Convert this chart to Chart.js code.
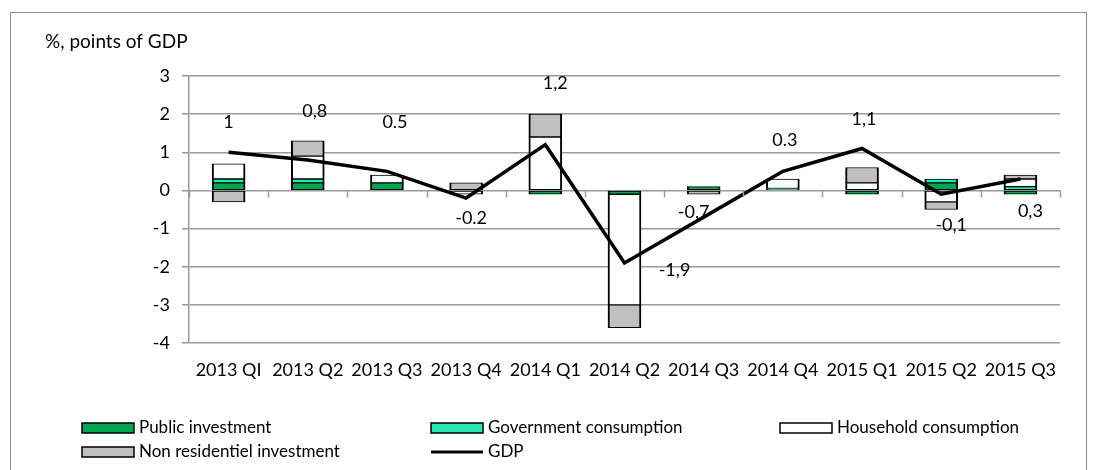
<!DOCTYPE html>
<html>
<head>
<meta charset="utf-8">
<script src="https://cdn.jsdelivr.net/npm/chart.js@4.4.0/dist/chart.umd.min.js"></script>
<style>
html, body { margin:0; padding:0; background:#fff; }
#wrap { position:relative; width:1097px; height:470px; overflow:hidden; }
#frame { position:absolute; left:10px; top:12px; width:1077px; height:500px; border:1px solid #8c8c8c; box-sizing:border-box; }
#chartBox { position:absolute; left:0; top:0; width:1097px; height:470px; }
</style>
</head>
<body>
<div id="wrap">
  <div id="frame"></div>
  <div id="chartBox"><canvas id="myChart"></canvas></div>
</div>
<script>
// chart data
var quarters = ["2013 QI", "2013 Q2", "2013 Q3", "2013 Q4", "2014 Q1", "2014 Q2",
                "2014 Q3", "2014 Q4", "2015 Q1", "2015 Q2", "2015 Q3"];
var publicInvestment = [0.2, 0.2, 0.2, 0, -0.1, -0.1, 0.1, 0, -0.1, 0.2, -0.1];
var governmentConsumption = [0.1, 0.1, 0, 0, 0, 0, 0, 0.05, 0, 0.1, 0.1];
var householdConsumption = [0.4, 0.6, 0.2, -0.1, 1.4, -2.9, 0, 0.25, 0.2, -0.3, 0.2];
var nonResidentialInvestment = [-0.3, 0.4, 0, 0.2, 0.6, -0.6, -0.1, 0, 0.4, -0.2, 0.1];
var gdp = [1, 0.8, 0.5, -0.2, 1.2, -1.9, -0.7, 0.5, 1.1, -0.1, 0.3];
var gdpLabels = ["1", "0,8", "0.5", "-0.2", "1,2", "-1,9", "-0,7", "0.3", "1,1", "-0,1", "0,3"];
var yTicks = [3, 2, 1, 0, -1, -2, -3, -4];

var fontName = "Lato";
var gridColor = "#9a9a9a";

// where each GDP label sits relative to its point (px)
var labelShift = [[0, -30], [7, -49], [8, -49], [5, 20], [10, -61], [50, 7],
                  [-10, -5], [2, -31], [2, -29], [10, 31], [10, 32]];

// title, zero axis ticks, gdp labels, legend
var extras = {
    id: "extras",
    afterDraw: function(chart) {
        var ctx = chart.ctx;
        var area = chart.chartArea;
        var x = chart.scales.x;
        var y = chart.scales.y;
        ctx.save();

        // title
        ctx.fillStyle = "#000";
        ctx.font = "19px " + fontName;
        ctx.textAlign = "left";
        ctx.textBaseline = "middle";
        ctx.fillText("%, points of GDP", 45, 42);

        // tick marks on the zero line
        var y0 = y.getPixelForValue(0);
        var step = (area.right - area.left) / quarters.length;
        ctx.strokeStyle = gridColor;
        ctx.lineWidth = 1.5;
        for (var i = 0; i <= quarters.length; i++) {
            var tx = Math.round(area.left + i * step) + 0.5;
            ctx.beginPath();
            ctx.moveTo(tx, y0);
            ctx.lineTo(tx, y0 + 7);
            ctx.stroke();
        }

        // gdp labels
        var meta = chart.getDatasetMeta(4);
        ctx.font = "18px " + fontName;
        ctx.textAlign = "center";
        ctx.fillStyle = "#000";
        for (var n = 0; n < gdpLabels.length; n++) {
            var pt = meta.data[n];
            ctx.fillText(gdpLabels[n], pt.x + labelShift[n][0], pt.y + labelShift[n][1]);
        }

        // legend
        ctx.font = "17px " + fontName;
        ctx.textAlign = "left";
        var sets = chart.data.datasets;
        for (var k = 0; k < sets.length; k++) {
            var col = k % 3;
            var row = Math.floor(k / 3);
            var lx = 82 + col * 349;
            var ly = 428 + row * 24;
            var ds = sets[k];
            if (ds.type === "line") {
                ctx.strokeStyle = ds.borderColor;
                ctx.lineWidth = 3;
                ctx.beginPath();
                ctx.moveTo(lx, ly);
                ctx.lineTo(lx + 52, ly);
                ctx.stroke();
            } else {
                ctx.fillStyle = ds.backgroundColor;
                ctx.fillRect(lx, ly - 5, 52, 10);
                ctx.strokeStyle = "#000";
                ctx.lineWidth = 1.5;
                ctx.strokeRect(lx, ly - 5, 52, 10);
            }
            ctx.fillStyle = "#000";
            ctx.fillText(ds.label, lx + 57, ly);
        }
        ctx.restore();
    }
};

var barBorder = {top: 1, bottom: 1, left: 2, right: 2};

function barSet(label, values, color) {
    return {
        type: "bar",
        label: label,
        data: values,
        backgroundColor: color,
        borderColor: "#000",
        borderWidth: barBorder,
        borderSkipped: false,
        barThickness: 33,
        order: 1
    };
}

var context = document.getElementById("myChart").getContext("2d");
var myChart = new Chart(context, {
    data: {
        labels: quarters,
        datasets: [
            barSet("Public investment", publicInvestment, "#00a550"),
            barSet("Government consumption", governmentConsumption, "#24e8b0"),
            barSet("Household consumption", householdConsumption, "#ffffff"),
            barSet("Non residentiel investment", nonResidentialInvestment, "#c0c0c0"),
            {
                type: "line",
                label: "GDP",
                data: gdp,
                borderColor: "#000",
                backgroundColor: "#000",
                borderWidth: 3.5,
                pointRadius: 0,
                tension: 0,
                order: 0
            }
        ]
    },
    options: {
        responsive: true,
        maintainAspectRatio: false,
        animation: false,
        layout: { padding: { left: 0, right: 37, top: 76, bottom: 0 } },
        plugins: {
            legend: { display: false },
            tooltip: { enabled: false }
        },
        scales: {
            x: {
                stacked: true,
                offset: true,
                grid: { display: false, drawTicks: false },
                border: { display: false },
                ticks: {
                    color: "#000",
                    font: { family: fontName, size: 18 },
                    padding: 16,
                    maxRotation: 0,
                    autoSkip: false
                },
                afterFit: function(scale) { scale.height = 127; }
            },
            y: {
                stacked: true,
                min: -4,
                max: 3,
                afterBuildTicks: function(scale) {
                    scale.ticks = yTicks.map(function(v) { return {value: v}; });
                },
                grid: { color: gridColor, lineWidth: 1.5, tickLength: 7 },
                border: { display: true, color: gridColor, width: 1.5 },
                ticks: {
                    color: "#000",
                    font: { family: fontName, size: 18 },
                    padding: 12
                },
                afterFit: function(scale) { scale.width = 189; }
            }
        }
    },
    plugins: [extras]
});
</script>
</body>
</html>
